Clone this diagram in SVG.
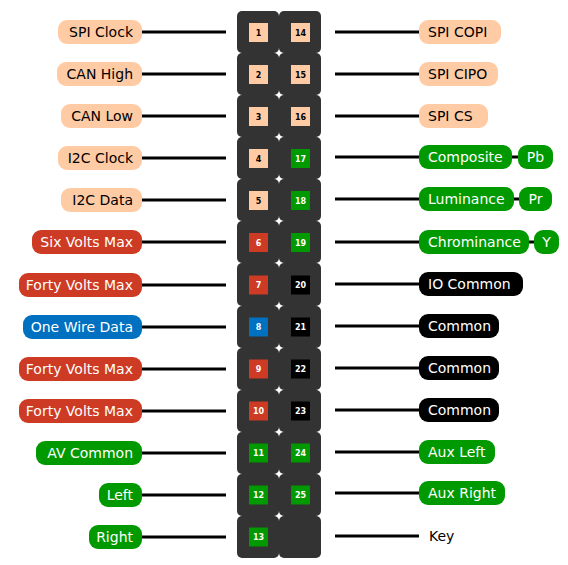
<svg xmlns="http://www.w3.org/2000/svg" width="568" height="565" viewBox="0 0 568 565">
<style>
.cell{fill:#333333}
.pin{stroke:none}
.pn{font-family:"DejaVu Sans",sans-serif;font-weight:bold;font-size:8px;text-anchor:middle}
.lbl{font-family:"DejaVu Sans",sans-serif;font-size:14px}
.l{text-anchor:end}
.c{text-anchor:middle}
.peach{fill:#FFCBA4}
.red{fill:#CD3B24}
.blue{fill:#0070C0}
.green{fill:#009900}
.black{fill:#000000}
.tw{fill:#ffffff}
.tk{fill:#000000}
.wire{stroke:#000;stroke-width:3;fill:none}
</style>
<g id="header">
<rect class="cell" x="237" y="11" width="42" height="42" rx="5"/><rect class="cell" x="279" y="11" width="42" height="42" rx="5"/>
<rect class="cell" x="237" y="53" width="42" height="42" rx="5"/><rect class="cell" x="279" y="53" width="42" height="42" rx="5"/>
<rect class="cell" x="237" y="95" width="42" height="42" rx="5"/><rect class="cell" x="279" y="95" width="42" height="42" rx="5"/>
<rect class="cell" x="237" y="137" width="42" height="42" rx="5"/><rect class="cell" x="279" y="137" width="42" height="42" rx="5"/>
<rect class="cell" x="237" y="179" width="42" height="42" rx="5"/><rect class="cell" x="279" y="179" width="42" height="42" rx="5"/>
<rect class="cell" x="237" y="221" width="42" height="42" rx="5"/><rect class="cell" x="279" y="221" width="42" height="42" rx="5"/>
<rect class="cell" x="237" y="263" width="42" height="43" rx="5"/><rect class="cell" x="279" y="263" width="42" height="43" rx="5"/>
<rect class="cell" x="237" y="306" width="42" height="42" rx="5"/><rect class="cell" x="279" y="306" width="42" height="42" rx="5"/>
<rect class="cell" x="237" y="348" width="42" height="42" rx="5"/><rect class="cell" x="279" y="348" width="42" height="42" rx="5"/>
<rect class="cell" x="237" y="390" width="42" height="42" rx="5"/><rect class="cell" x="279" y="390" width="42" height="42" rx="5"/>
<rect class="cell" x="237" y="432" width="42" height="42" rx="5"/><rect class="cell" x="279" y="432" width="42" height="42" rx="5"/>
<rect class="cell" x="237" y="474" width="42" height="42" rx="5"/><rect class="cell" x="279" y="474" width="42" height="42" rx="5"/>
<rect class="cell" x="237" y="516" width="42" height="42" rx="5"/><rect class="cell" x="279" y="516" width="42" height="42" rx="5"/>
</g>
<g id="connectors">
<line class="wire" x1="142" y1="32" x2="226" y2="32"/>
<line class="wire" x1="142" y1="74" x2="226" y2="74"/>
<line class="wire" x1="142" y1="116" x2="226" y2="116"/>
<line class="wire" x1="142" y1="158" x2="226" y2="158"/>
<line class="wire" x1="142" y1="200" x2="226" y2="200"/>
<line class="wire" x1="142" y1="242" x2="226" y2="242"/>
<line class="wire" x1="142" y1="285" x2="226" y2="285"/>
<line class="wire" x1="142" y1="327" x2="226" y2="327"/>
<line class="wire" x1="142" y1="369" x2="226" y2="369"/>
<line class="wire" x1="142" y1="411" x2="226" y2="411"/>
<line class="wire" x1="142" y1="453" x2="226" y2="453"/>
<line class="wire" x1="142" y1="495" x2="226" y2="495"/>
<line class="wire" x1="142" y1="537" x2="226" y2="537"/>
<line class="wire" x1="335" y1="32" x2="419" y2="32"/>
<line class="wire" x1="335" y1="74" x2="419" y2="74"/>
<line class="wire" x1="335" y1="116" x2="419" y2="116"/>
<line class="wire" x1="335" y1="157" x2="419" y2="157"/>
<line class="wire" x1="335" y1="199" x2="419" y2="199"/>
<line class="wire" x1="335" y1="242" x2="419" y2="242"/>
<line class="wire" x1="335" y1="284" x2="419" y2="284"/>
<line class="wire" x1="335" y1="326" x2="419" y2="326"/>
<line class="wire" x1="335" y1="368" x2="419" y2="368"/>
<line class="wire" x1="335" y1="410" x2="419" y2="410"/>
<line class="wire" x1="335" y1="452" x2="419" y2="452"/>
<line class="wire" x1="335" y1="493" x2="419" y2="493"/>
<line class="wire" x1="335" y1="536" x2="419" y2="536"/>
<line class="wire" x1="510" y1="157" x2="520" y2="157"/>
<line class="wire" x1="511" y1="199" x2="521" y2="199"/>
<line class="wire" x1="527" y1="242" x2="536" y2="242"/>
</g>
<g id="pin1"><rect class="pin peach" x="249" y="23" width="19" height="19"/><text class="pn tk" x="258.5" y="35.5">1</text><rect class="peach" x="58" y="20" width="84" height="24" rx="9"/><text class="lbl l tk" x="133" y="37">SPI Clock</text></g>
<g id="pin2"><rect class="pin peach" x="249" y="65" width="19" height="19"/><text class="pn tk" x="258.5" y="77.5">2</text><rect class="peach" x="57" y="62" width="85" height="24" rx="9"/><text class="lbl l tk" x="133" y="79">CAN High</text></g>
<g id="pin3"><rect class="pin peach" x="249" y="107" width="19" height="19"/><text class="pn tk" x="258.5" y="119.5">3</text><rect class="peach" x="61" y="104" width="81" height="24" rx="9"/><text class="lbl l tk" x="133" y="121">CAN Low</text></g>
<g id="pin4"><rect class="pin peach" x="249" y="149" width="19" height="19"/><text class="pn tk" x="258.5" y="161.5">4</text><rect class="peach" x="58" y="146" width="84" height="24" rx="9"/><text class="lbl l tk" x="133" y="163">I2C Clock</text></g>
<g id="pin5"><rect class="pin peach" x="249" y="191" width="19" height="19"/><text class="pn tk" x="258.5" y="203.5">5</text><rect class="peach" x="61" y="188" width="81" height="24" rx="9"/><text class="lbl l tk" x="133" y="205">I2C Data</text></g>
<g id="pin6"><rect class="pin red" x="249" y="233" width="19" height="19"/><text class="pn tw" x="258.5" y="245.5">6</text><rect class="red" x="32" y="230" width="110" height="24" rx="9"/><text class="lbl l tw" x="133" y="247">Six Volts Max</text></g>
<g id="pin7"><rect class="pin red" x="249" y="275.5" width="19" height="19"/><text class="pn tw" x="258.5" y="288">7</text><rect class="red" x="19" y="273" width="123" height="24" rx="9"/><text class="lbl l tw" x="133" y="290">Forty Volts Max</text></g>
<g id="pin8"><rect class="pin blue" x="249" y="317.5" width="19" height="19"/><text class="pn tw" x="258.5" y="330">8</text><rect class="blue" x="23" y="315" width="119" height="24" rx="9"/><text class="lbl l tw" x="133" y="332">One Wire Data</text></g>
<g id="pin9"><rect class="pin red" x="249" y="359.5" width="19" height="19"/><text class="pn tw" x="258.5" y="372">9</text><rect class="red" x="19" y="357" width="123" height="24" rx="9"/><text class="lbl l tw" x="133" y="374">Forty Volts Max</text></g>
<g id="pin10"><rect class="pin red" x="249" y="401.5" width="19" height="19"/><text class="pn tw" x="258.5" y="414">10</text><rect class="red" x="19" y="399" width="123" height="24" rx="9"/><text class="lbl l tw" x="133" y="416">Forty Volts Max</text></g>
<g id="pin11"><rect class="pin green" x="249" y="443.5" width="19" height="19"/><text class="pn tw" x="258.5" y="456">11</text><rect class="green" x="36" y="441" width="106" height="24" rx="9"/><text class="lbl l tw" x="133" y="458">AV Common</text></g>
<g id="pin12"><rect class="pin green" x="249" y="485.5" width="19" height="19"/><text class="pn tw" x="258.5" y="498">12</text><rect class="green" x="99" y="483" width="43" height="24" rx="9"/><text class="lbl l tw" x="133" y="500">Left</text></g>
<g id="pin13"><rect class="pin green" x="249" y="527.5" width="19" height="19"/><text class="pn tw" x="258.5" y="540">13</text><rect class="green" x="89" y="525" width="53" height="24" rx="9"/><text class="lbl l tw" x="133" y="542">Right</text></g>
<g id="pin14"><rect class="pin peach" x="291" y="23" width="19" height="19"/><text class="pn tk" x="300.5" y="35.5">14</text><rect class="peach" x="419" y="20" width="82" height="24" rx="9"/><text class="lbl tk" x="428" y="37">SPI COPI</text></g>
<g id="pin15"><rect class="pin peach" x="291" y="65" width="19" height="19"/><text class="pn tk" x="300.5" y="77.5">15</text><rect class="peach" x="419" y="62" width="79" height="24" rx="9"/><text class="lbl tk" x="428" y="79">SPI CIPO</text></g>
<g id="pin16"><rect class="pin peach" x="291" y="107" width="19" height="19"/><text class="pn tk" x="300.5" y="119.5">16</text><rect class="peach" x="419" y="104" width="69" height="24" rx="9"/><text class="lbl tk" x="428" y="121">SPI CS</text></g>
<g id="pin17"><rect class="pin green" x="291" y="149" width="19" height="19"/><text class="pn tw" x="300.5" y="161.5">17</text><rect class="green" x="419" y="145" width="93" height="24" rx="9"/><text class="lbl tw" x="428" y="162">Composite</text><rect class="green" x="518" y="145" width="35" height="24" rx="9"/><text class="lbl c tw" x="535.5" y="162">Pb</text></g>
<g id="pin18"><rect class="pin green" x="291" y="191" width="19" height="19"/><text class="pn tw" x="300.5" y="203.5">18</text><rect class="green" x="419" y="187" width="95" height="24" rx="9"/><text class="lbl tw" x="428" y="204">Luminance</text><rect class="green" x="519" y="187" width="33" height="24" rx="9"/><text class="lbl c tw" x="535.5" y="204">Pr</text></g>
<g id="pin19"><rect class="pin green" x="291" y="233" width="19" height="19"/><text class="pn tw" x="300.5" y="245.5">19</text><rect class="green" x="419" y="230" width="110" height="24" rx="9"/><text class="lbl tw" x="428" y="247">Chrominance</text><rect class="green" x="534" y="230" width="25" height="24" rx="9"/><text class="lbl c tw" x="546.5" y="247">Y</text></g>
<g id="pin20"><rect class="pin black" x="291" y="275.5" width="19" height="19"/><text class="pn tw" x="300.5" y="288">20</text><rect class="black" x="419" y="272" width="104" height="24" rx="9"/><text class="lbl tw" x="428" y="289">IO Common</text></g>
<g id="pin21"><rect class="pin black" x="291" y="317.5" width="19" height="19"/><text class="pn tw" x="300.5" y="330">21</text><rect class="black" x="419" y="314" width="80" height="24" rx="9"/><text class="lbl tw" x="428" y="331">Common</text></g>
<g id="pin22"><rect class="pin black" x="291" y="359.5" width="19" height="19"/><text class="pn tw" x="300.5" y="372">22</text><rect class="black" x="419" y="356" width="80" height="24" rx="9"/><text class="lbl tw" x="428" y="373">Common</text></g>
<g id="pin23"><rect class="pin black" x="291" y="401.5" width="19" height="19"/><text class="pn tw" x="300.5" y="414">23</text><rect class="black" x="419" y="398" width="80" height="24" rx="9"/><text class="lbl tw" x="428" y="415">Common</text></g>
<g id="pin24"><rect class="pin green" x="291" y="443.5" width="19" height="19"/><text class="pn tw" x="300.5" y="456">24</text><rect class="green" x="419" y="440" width="76" height="24" rx="9"/><text class="lbl tw" x="428" y="457">Aux Left</text></g>
<g id="pin25"><rect class="pin green" x="291" y="485.5" width="19" height="19"/><text class="pn tw" x="300.5" y="498">25</text><rect class="green" x="419" y="481" width="86" height="24" rx="9"/><text class="lbl tw" x="428" y="498">Aux Right</text></g>
<g id="key"><text class="lbl tk" x="429" y="541">Key</text></g>
</svg>
